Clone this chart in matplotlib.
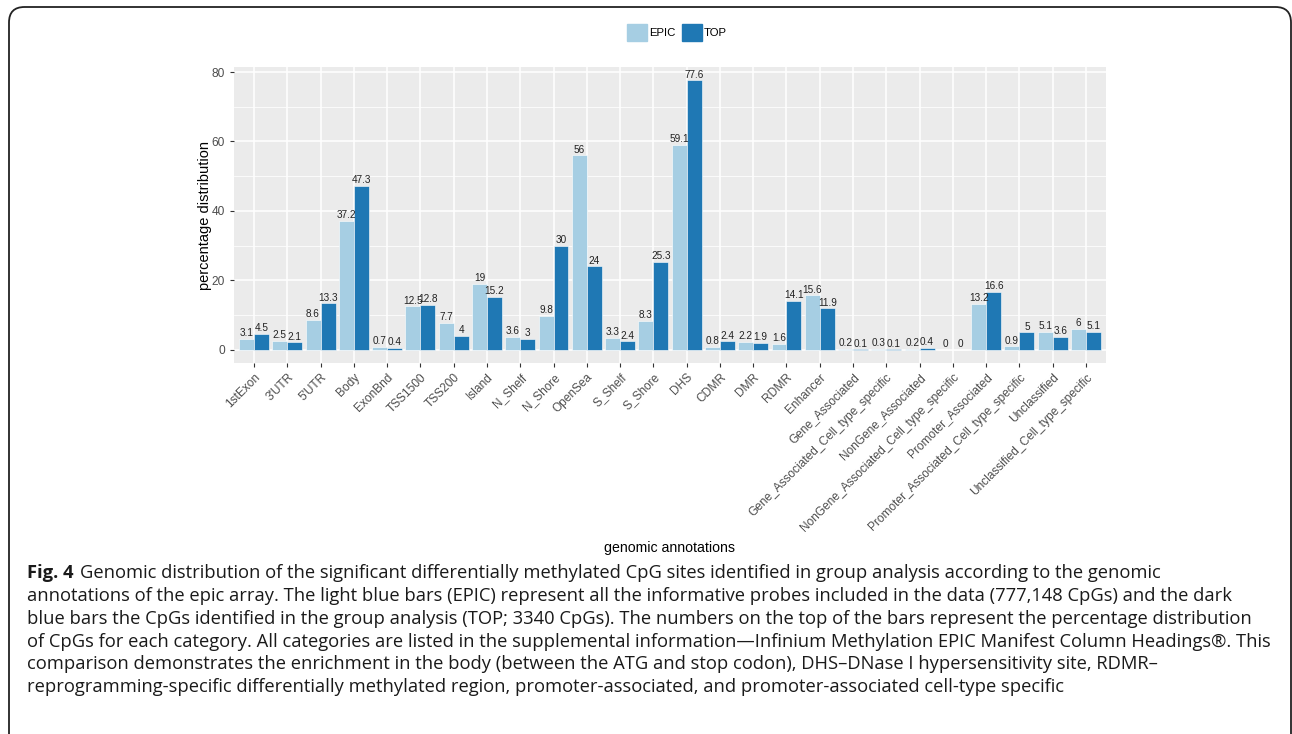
import numpy as np
import matplotlib
matplotlib.use("Agg")
import matplotlib.pyplot as plt
from matplotlib.patches import FancyBboxPatch, Rectangle

# genomic annotation categories and percentage distributions
categories = ["1stExon", "3'UTR", "5'UTR", "Body", "ExonBnd", "TSS1500", "TSS200",
              "Island", "N_Shelf", "N_Shore", "OpenSea", "S_Shelf", "S_Shore", "DHS",
              "CDMR", "DMR", "RDMR", "Enhancer", "Gene_Associated",
              "Gene_Associated_Cell_type_specific", "NonGene_Associated",
              "NonGene_Associated_Cell_type_specific", "Promoter_Associated",
              "Promoter_Associated_Cell_type_specific", "Unclassified",
              "Unclassified_Cell_type_specific"]
epic = [3.1, 2.5, 8.6, 37.2, 0.7, 12.5, 7.7, 19, 3.6, 9.8, 56, 3.3, 8.3, 59.1,
        0.8, 2.2, 1.6, 15.6, 0.2, 0.3, 0.2, 0, 13.2, 0.9, 5.1, 6]
top = [4.5, 2.1, 13.3, 47.3, 0.4, 12.8, 4, 15.2, 3, 30, 24, 2.4, 25.3, 77.6,
       2.4, 1.9, 14.1, 11.9, 0.1, 0.1, 0.4, 0, 16.6, 5, 3.6, 5.1]
series_names = ["EPIC", "TOP"]
series_colors = ["#A6CEE3", "#1F78B4"]

caption_head = "Fig. 4"
caption_first = "Genomic distribution of the significant differentially methylated CpG sites identified in group analysis according to the genomic"
caption_lines = [
    "annotations of the epic array. The light blue bars (EPIC) represent all the informative probes included in the data (777,148 CpGs) and the dark",
    "blue bars the CpGs identified in the group analysis (TOP; 3340 CpGs). The numbers on the top of the bars represent the percentage distribution",
    "of CpGs for each category. All categories are listed in the supplemental information\u2014Infinium Methylation EPIC Manifest Column Headings\u00ae. This",
    "comparison demonstrates the enrichment in the body (between the ATG and stop codon), DHS\u2013DNase I hypersensitivity site, RDMR\u2013",
    "reprogramming-specific differentially methylated region, promoter-associated, and promoter-associated cell-type specific",
]

W, H = 1292, 734
fig = plt.figure(figsize=(W / 100, H / 100), dpi=100)

def px(x0, y0, x1, y1):
    return [x0 / W, 1 - y1 / H, (x1 - x0) / W, (y1 - y0) / H]

# rounded frame around the figure
frame = FancyBboxPatch((9 / W, -20 / H), (1291 - 9) / W, (H + 13) / H,
                       boxstyle="round,pad=0,rounding_size=0.012",
                       transform=fig.transFigure, fill=False,
                       edgecolor="#222222", linewidth=1.3, mutation_aspect=W / H)
fig.patches.append(frame)

ax = fig.add_axes(px(234, 67, 1106, 363))
ax.set_facecolor("#EBEBEB")
for s in ax.spines.values():
    s.set_visible(False)

x = np.arange(1, len(categories) + 1)
bw = 0.45
label_font = dict(family="Liberation Sans", fontsize=7.2, color="#222222")
for k, (vals, col) in enumerate(zip([epic, top], series_colors)):
    xs = x + (k - 0.5) * bw
    ax.bar(xs, vals, width=bw, color=col, edgecolor="white", linewidth=0.4, zorder=3)
    for xi, v in zip(xs, vals):
        ax.annotate(f"{v:g}", (xi, v), xytext=(0, 0.5), textcoords="offset points",
                    ha="center", va="bottom", zorder=4, **label_font)

ax.set_xlim(0.4, len(categories) + 0.6)
ax.set_ylim(-3.88, 81.48)
ax.set_yticks([0, 20, 40, 60, 80])
ax.set_yticks([10, 30, 50, 70], minor=True)
ax.set_xticks(x)
ax.set_xticklabels(categories, rotation=45, ha="right", rotation_mode="anchor",
                   family="Liberation Sans", fontsize=8.6, color="#4D4D4D")
ax.tick_params(axis="x", which="major", length=3, width=0.8, color="#333333", pad=3)
ax.tick_params(axis="y", which="major", length=3, width=0.8, color="#333333",
               labelsize=8.6, labelcolor="#4D4D4D")
ax.tick_params(axis="y", which="minor", length=0)
for lab in ax.get_yticklabels():
    lab.set_family("Liberation Sans")
ax.grid(which="major", color="white", linewidth=1.1, zorder=0)
ax.grid(which="minor", axis="y", color="white", linewidth=0.55, zorder=0)
ax.set_axisbelow(True)

fig.text(205 / W, 1 - 215 / H, "percentage distribution", rotation=90,
         ha="center", va="center", family="Liberation Sans", fontsize=10.5)
fig.text(670 / W, 1 - 548 / H, "genomic annotations", ha="center", va="center",
         family="Liberation Sans", fontsize=10.2)

# legend keys at top
for (x0, name, col) in [(627, series_names[0], series_colors[0]),
                        (682, series_names[1], series_colors[1])]:
    fig.patches.append(Rectangle((x0 / W, 1 - 41 / H), 20 / W, 17 / H,
                                 transform=fig.transFigure, color=col))
    fig.text((x0 + 22) / W, 1 - 33 / H, name, ha="left", va="center",
             family="Liberation Sans", fontsize=8.2)

# caption
cap_font = dict(family="Open Sans", fontsize=13.2, color="#1a1a1a")
fig.text(27 / W, 1 - 578 / H, caption_head, ha="left", va="baseline",
         fontweight="bold", **cap_font)
fig.text(80 / W, 1 - 578 / H, caption_first, ha="left", va="baseline", **cap_font)
for i, line in enumerate(caption_lines):
    fig.text(27 / W, 1 - (601 + 22.8 * i) / H, line, ha="left", va="baseline", **cap_font)

fig.savefig("out.png", dpi=100)
